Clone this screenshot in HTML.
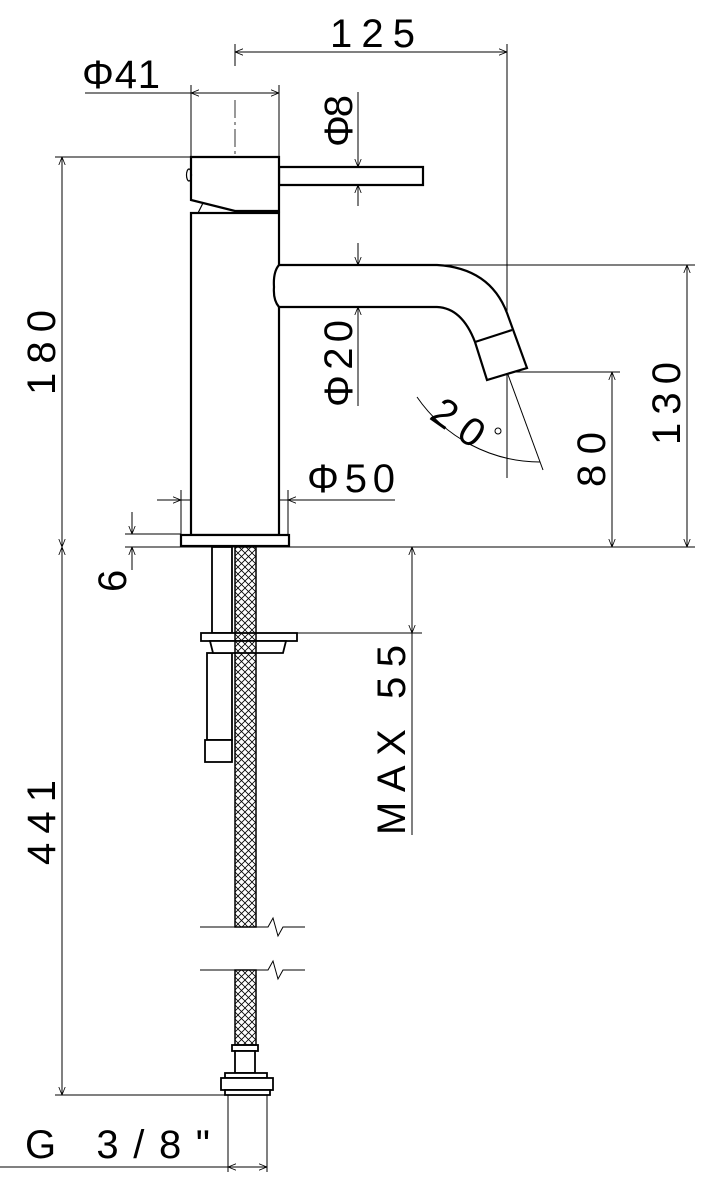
<!DOCTYPE html>
<html><head><style>
html,body{margin:0;padding:0;background:#fff;}
svg{display:block;}
text{font-family:"Liberation Sans","DejaVu Sans",sans-serif;fill:#000;}
</style></head><body>
<svg width="704" height="1181" viewBox="0 0 704 1181" xmlns="http://www.w3.org/2000/svg">
<defs>
<pattern id="hx" width="7" height="7" patternUnits="userSpaceOnUse">
<path d="M0 0L7 7M7 0L0 7" stroke="#000" stroke-width="0.8"/>
</pattern>
<marker id="a" viewBox="0 0 10 10" refX="10" refY="5" markerWidth="8" markerHeight="8" orient="auto-start-reverse"><path d="M0 1L10 5L0 9" fill="none" stroke="#000" stroke-width="1"/></marker>
</defs>
<g fill="none" stroke="#000" stroke-width="1">
<line x1="235" y1="100" x2="235" y2="550" stroke-dasharray="18,4,3,4" stroke-width="0.8"/>
<line x1="235" y1="52" x2="507" y2="52" marker-start="url(#a)" marker-end="url(#a)"/>
<line x1="235" y1="44" x2="235" y2="66"/>
<line x1="507" y1="44" x2="507" y2="478"/>
<line x1="85" y1="93" x2="279" y2="93"/>
<line x1="191" y1="93" x2="279" y2="93" marker-start="url(#a)" marker-end="url(#a)"/>
<line x1="191" y1="85" x2="191" y2="157"/>
<line x1="279" y1="85" x2="279" y2="157"/>
<line x1="358" y1="92" x2="358" y2="167" marker-end="url(#a)"/>
<line x1="358" y1="206" x2="358" y2="185" marker-end="url(#a)"/>
<line x1="358" y1="243" x2="358" y2="265" marker-end="url(#a)"/>
<line x1="358" y1="406" x2="358" y2="307" marker-end="url(#a)"/>
<line x1="55" y1="157" x2="191" y2="157"/>
<line x1="62" y1="157" x2="62" y2="547" marker-start="url(#a)" marker-end="url(#a)"/>
<line x1="62" y1="547" x2="62" y2="1095" marker-start="url(#a)" marker-end="url(#a)"/>
<line x1="55" y1="1095" x2="228" y2="1095"/>
<line x1="125" y1="547" x2="695" y2="547"/>
<line x1="437" y1="265" x2="695" y2="265"/>
<line x1="687" y1="265" x2="687" y2="547" marker-start="url(#a)" marker-end="url(#a)"/>
<line x1="507" y1="372" x2="620" y2="372"/>
<line x1="612" y1="372" x2="612" y2="547" marker-start="url(#a)" marker-end="url(#a)"/>
<line x1="157" y1="500" x2="395" y2="500"/>
<line x1="181" y1="490" x2="181" y2="535"/>
<line x1="288" y1="490" x2="288" y2="535"/>
<line x1="165" y1="500" x2="181" y2="500" marker-end="url(#a)"/>
<line x1="305" y1="500" x2="288" y2="500" marker-end="url(#a)"/>
<line x1="125" y1="534" x2="181" y2="534"/>
<line x1="132" y1="512" x2="132" y2="534" marker-end="url(#a)"/>
<line x1="132" y1="570" x2="132" y2="547" marker-end="url(#a)"/>
<line x1="412" y1="547" x2="412" y2="633" marker-start="url(#a)" marker-end="url(#a)"/>
<line x1="412" y1="633" x2="412" y2="835"/>
<line x1="290" y1="633" x2="422" y2="633"/>
<line x1="0" y1="1167" x2="267" y2="1167"/>
<line x1="228" y1="1167" x2="267" y2="1167" marker-start="url(#a)" marker-end="url(#a)"/>
<line x1="228" y1="1095" x2="228" y2="1172"/>
<line x1="267" y1="1095" x2="267" y2="1172"/>
<path d="M417 397 A150 150 0 0 0 540 462" />
<line x1="507" y1="372" x2="543" y2="470"/>
<line x1="488" y1="310" x2="512" y2="372" stroke-dasharray="10,3,2,3"/>
</g>
<g fill="#fff" stroke="#000" stroke-width="2.2">
<rect x="191" y="213" width="88" height="322"/>
<rect x="181" y="535" width="108" height="11"/>
<path d="M279 167H423V185H279Z"/>
<path d="M191 157H279V211H235L191 200Z"/>
<path d="M279 265H437Q490 268 507 313L527 368L487 380L475 342Q462 308 437 307H279Q273 300 274 287Q273 272 279 265Z"/>
<line x1="475" y1="342" x2="512" y2="330"/>
</g>
<g fill="none" stroke="#000" stroke-width="1.2">
<ellipse cx="189" cy="175" rx="2.5" ry="6"/>
<line x1="203" y1="203" x2="198" y2="213"/>
</g>
<g fill="#fff" stroke="#000" stroke-width="1.8">
<rect x="212" y="547" width="20" height="86"/>
<rect x="207" y="653" width="25" height="87"/>
<rect x="205" y="740" width="27" height="22"/>
<rect x="201" y="633" width="96" height="8"/>
<path d="M210 641H286L283 653H213Z"/>
<rect x="232" y="1045" width="26" height="6"/>
<rect x="235" y="1051" width="20" height="22"/>
<rect x="225" y="1073" width="42" height="5"/>
<rect x="221" y="1078" width="52" height="12"/>
<rect x="225" y="1090" width="45" height="5"/>
</g>
<rect x="235" y="547" width="21" height="380" fill="url(#hx)" stroke="#000" stroke-width="1.5"/>
<rect x="235" y="970" width="21" height="75" fill="url(#hx)" stroke="#000" stroke-width="1.5"/>
<g fill="none" stroke="#000" stroke-width="1">
<path d="M200 927H268L273 918L278 936L283 927H305"/>
<path d="M200 970H268L273 961L278 979L283 970H305"/>
</g>
<g font-size="40">
<text x="330" y="47" textLength="85" lengthAdjust="spacing">125</text>
<text x="82" y="88" textLength="78" lengthAdjust="spacing">Φ41</text>
<text x="307" y="492" textLength="88" lengthAdjust="spacing">Φ50</text>
<text x="25" y="1158" textLength="185" lengthAdjust="spacing">G  3/8"</text>
<text transform="translate(55 395) rotate(-90)" textLength="85" lengthAdjust="spacing">180</text>
<text transform="translate(55 865) rotate(-90)" textLength="85" lengthAdjust="spacing">441</text>
<text transform="translate(126 592) rotate(-90)">6</text>
<text transform="translate(680 445) rotate(-90)" textLength="83" lengthAdjust="spacing">130</text>
<text transform="translate(605 487) rotate(-90)" textLength="55" lengthAdjust="spacing">80</text>
<text transform="translate(352 147) rotate(-90)" textLength="52" lengthAdjust="spacing">Φ8</text>
<text transform="translate(352 407) rotate(-90)" textLength="87" lengthAdjust="spacing">Φ20</text>
<text transform="translate(405 835) rotate(-90)" textLength="190" lengthAdjust="spacing">MAX  55</text>
<text transform="translate(428 418) rotate(35)" textLength="55" lengthAdjust="spacing">20</text>
</g>
<circle cx="498" cy="431" r="3" fill="none" stroke="#000"/>
</svg>
</body></html>
